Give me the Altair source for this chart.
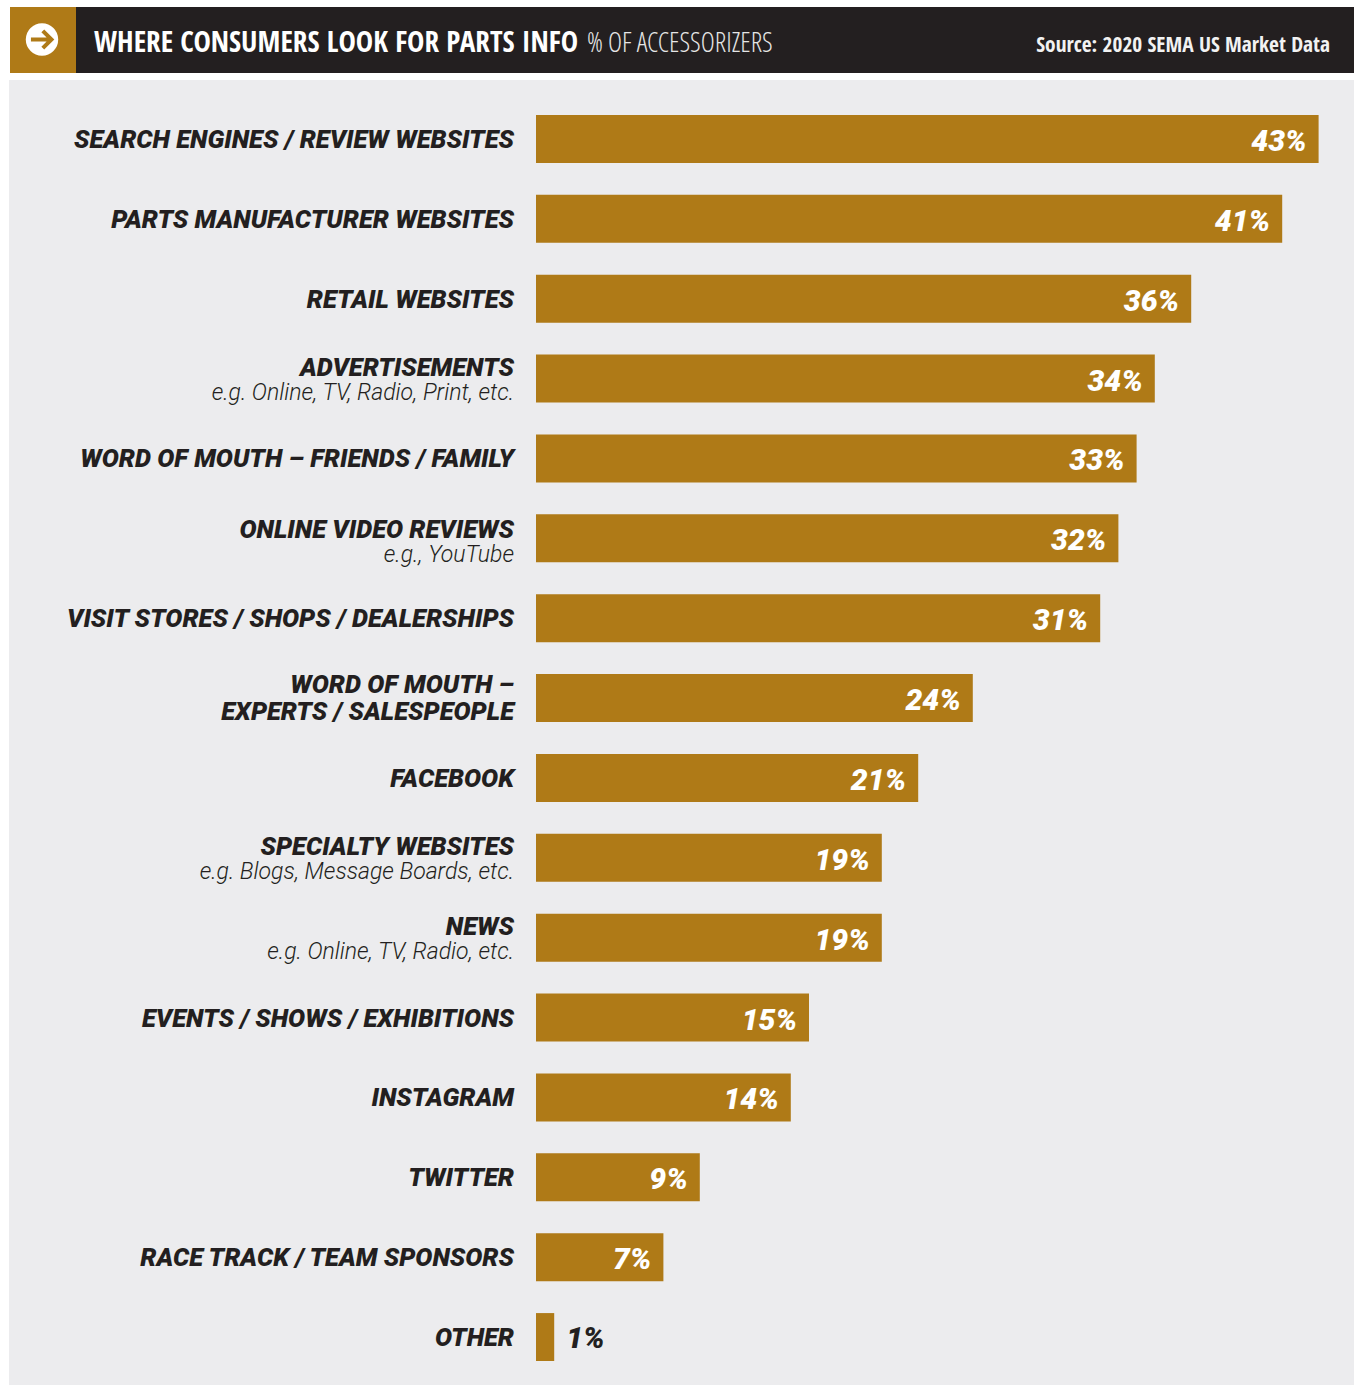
import altair as alt
import pandas as pd

# Survey results, top to bottom
categories = [
    "SEARCH ENGINES / REVIEW WEBSITES", "PARTS MANUFACTURER WEBSITES", "RETAIL WEBSITES",
    "ADVERTISEMENTS", "WORD OF MOUTH – FRIENDS / FAMILY", "ONLINE VIDEO REVIEWS",
    "VISIT STORES / SHOPS / DEALERSHIPS", "WORD OF MOUTH – EXPERTS", "FACEBOOK",
    "SPECIALTY WEBSITES", "NEWS", "EVENTS / SHOWS / EXHIBITIONS", "INSTAGRAM",
    "TWITTER", "RACE TRACK / TEAM SPONSORS", "OTHER",
]
values = [43, 41, 36, 34, 33, 32, 31, 24, 21, 19, 19, 15, 14, 9, 7, 1]

# Categories whose label carries a second line
two_line_keys = ["ADVERTISEMENTS", "SPECIALTY WEBSITES", "NEWS"]
second_lines = [
    "e.g. Online, TV, Radio, Print, etc.",
    "e.g. Blogs, Message Boards, etc.", "e.g. Online, TV, Radio, etc.",
]
video_key = "ONLINE VIDEO REVIEWS"
video_sub = "e.g., YouTube"
wom_key = "WORD OF MOUTH – EXPERTS"
wom_lines = ["WORD OF MOUTH –", "EXPERTS / SALESPEOPLE"]

GOLD = "#AF7A17"
INK = "#231F20"
PANEL = "#ECECEE"
SANS = "Roboto"
CONDENSED = "Noto Sans Condensed, Open Sans Condensed, Roboto Condensed, DejaVu Sans Condensed, sans-serif"
EXTRA_CONDENSED = "Noto Sans ExtraCondensed, Noto Sans Extra Condensed, Open Sans Condensed, sans-serif"
LIGHT_CONDENSED = "Noto Sans ExtraCondensed Light, Noto Sans Condensed Light, Open Sans Condensed Light, sans-serif"

df = pd.DataFrame({"category": categories, "value": values})
df["pct"] = df["value"].astype(str) + "%"
single = df[~df["category"].isin(two_line_keys + [video_key, wom_key])]
tops = pd.DataFrame({"category": two_line_keys})
subs = pd.DataFrame({"category": two_line_keys, "sub": second_lines})
video = pd.DataFrame({"category": [video_key], "sub": [video_sub]})
wom = pd.DataFrame({"category": [wom_key], "a": [wom_lines[0]], "b": [wom_lines[1]]})
one = pd.DataFrame({"k": [0]})

x_scale = alt.Scale(domain=[0, 43], range=[536, 536 + 18.2 * 43])
y_scale = alt.Scale(domain=categories, range=[115, 1361], paddingInner=0.4, paddingOuter=0)
X = alt.X("value:Q", scale=x_scale, axis=None)
Y = alt.Y("category:N", scale=y_scale, sort=None, axis=None)


def box(x0, x1, y0, y1, color):
    return alt.Chart(one).mark_rect(color=color).encode(
        x=alt.value(x0), x2=alt.value(x1), y=alt.value(y0), y2=alt.value(y1)
    )


def caption(text, x, y, **kw):
    return alt.Chart(one).mark_text(text=text, baseline="middle", **kw).encode(
        x=alt.value(x), y=alt.value(y)
    )


def row_text(data, field, dy, style):
    return alt.Chart(data).mark_text(dy=dy, **style).encode(
        x=alt.value(514), y=Y, text=f"{field}:N"
    )


label_style = dict(font=SANS, fontWeight=900, fontStyle="italic", fontSize=25.5, color=INK, align="right", baseline="middle")
sub_style = dict(font=SANS, fontWeight=300, fontStyle="italic", fontSize=23, color=INK, align="right", baseline="middle")
pct_style = dict(font=SANS, fontWeight=900, fontStyle="italic", fontSize=30, baseline="middle")

arrow = "M-0.7,0 L0.55,0 M0.05,-0.55 L0.6,0 L0.05,0.55"

layers = [
    box(9, 1354, 80, 1385, PANEL),
    box(10, 76, 7, 73, GOLD),
    box(76, 1354, 7, 73, INK),
    alt.Chart(one).mark_point(filled=True, opacity=1, color="white", size=1050, shape="circle").encode(
        x=alt.value(42), y=alt.value(39.5)
    ),
    alt.Chart(one).mark_point(filled=False, opacity=1, color=GOLD, strokeWidth=4, size=1000, shape=arrow).encode(
        x=alt.value(42), y=alt.value(39.5)
    ),
    caption("WHERE CONSUMERS LOOK FOR PARTS INFO", 94, 43, font=EXTRA_CONDENSED, fontWeight="bold", fontSize=29.2, color="white", align="left"),
    caption("% OF ACCESSORIZERS", 587, 44, font=LIGHT_CONDENSED, fontWeight=300, fontSize=27, color="#E6E6E6", align="left"),
    caption("Source: 2020 SEMA US Market Data", 1330, 46, font=CONDENSED, fontWeight="bold", fontSize=21.4, color="#F2F2F2", align="right"),
    alt.Chart(df).mark_bar(color=GOLD).encode(x=X, x2=alt.datum(0), y=Y),
    row_text(single, "category", 1, label_style),
    row_text(tops, "category", -11, label_style),
    row_text(subs, "sub", 14, sub_style),
    row_text(video, "category", -8, label_style),
    row_text(video, "sub", 17, sub_style),
    row_text(wom, "a", -13, label_style),
    row_text(wom, "b", 14, label_style),
    alt.Chart(df[df["value"] > 1]).mark_text(align="right", dx=-12, dy=3, color="white", **pct_style).encode(x=X, y=Y, text="pct:N"),
    alt.Chart(df[df["value"] <= 1]).mark_text(align="left", dx=12, dy=2, color=INK, **pct_style).encode(x=X, y=Y, text="pct:N"),
]

chart = (
    alt.layer(*layers)
    .properties(width=1354, height=1387, padding=0, background="white", autosize=alt.AutoSizeParams(type="none"))
    .configure_view(stroke=None)
)

chart.save("out.html", embed_options={"renderer": "svg", "actions": False})
